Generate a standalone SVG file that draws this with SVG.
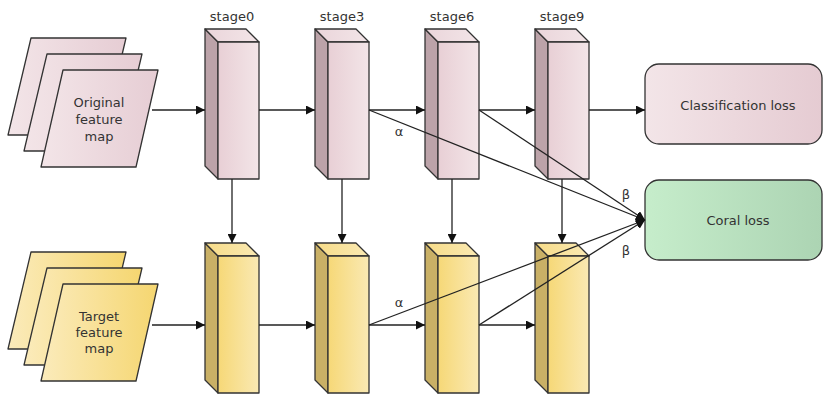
<svg xmlns="http://www.w3.org/2000/svg" width="826" height="394" viewBox="0 0 826 394">
<defs>
<linearGradient id="pinkFront" x1="0" y1="0" x2="1" y2="0"><stop offset="0" stop-color="#e8cfd5"/><stop offset="1" stop-color="#f3e5e8"/></linearGradient>
<linearGradient id="pinkTop" x1="0" y1="0" x2="1" y2="0"><stop offset="0" stop-color="#ead5da"/><stop offset="1" stop-color="#f3e5e8"/></linearGradient>
<linearGradient id="yelFront" x1="0" y1="0" x2="1" y2="0"><stop offset="0" stop-color="#f6d877"/><stop offset="1" stop-color="#fae9b3"/></linearGradient>
<linearGradient id="yelTop" x1="0" y1="0" x2="1" y2="0"><stop offset="0" stop-color="#f7dc88"/><stop offset="1" stop-color="#fae9b3"/></linearGradient>
<linearGradient id="pinkPara" x1="0" y1="0" x2="1" y2="0"><stop offset="0" stop-color="#f3e5e8"/><stop offset="1" stop-color="#e6cdd4"/></linearGradient>
<linearGradient id="yelPara" x1="0" y1="0" x2="1" y2="0"><stop offset="0" stop-color="#fbebbb"/><stop offset="1" stop-color="#f5d670"/></linearGradient>
<linearGradient id="clsGrad" x1="0" y1="0" x2="1" y2="0"><stop offset="0" stop-color="#f3e5e8"/><stop offset="1" stop-color="#e5cbd2"/></linearGradient>
<linearGradient id="coralGrad" x1="0" y1="0" x2="1" y2="0"><stop offset="0" stop-color="#c6edcb"/><stop offset="1" stop-color="#acd4b3"/></linearGradient>
<marker id="arr" viewBox="0 0 10 10" refX="10" refY="5" markerWidth="9" markerHeight="9" markerUnits="userSpaceOnUse" orient="auto"><path d="M0,0 L10,5 L0,10 z" fill="#111"/></marker>
</defs>
<style>
.edge{stroke:#222;stroke-width:1.3;fill:none}
.shape{stroke:#333;stroke-width:1.3;stroke-linejoin:round}
.pside{fill:#bca3a9}
.yside{fill:#c9b066}
.txt{font-family:"DejaVu Sans","Verdana",sans-serif;font-size:13px;fill:#333;text-anchor:middle}
</style>

<g id="labels">
<text class="txt" x="232" y="21">stage0</text>
<text class="txt" x="342" y="21">stage3</text>
<text class="txt" x="452" y="21">stage6</text>
<text class="txt" x="562" y="21">stage9</text>
</g>

<g id="original-map">
<polygon class="shape" fill="url(#pinkPara)" points="31,38 126,38 103,135 8,135"/>
<polygon class="shape" fill="url(#pinkPara)" points="47,54 142,54 119,151 24,151"/>
<polygon class="shape" fill="url(#pinkPara)" points="63,70 158,70 136,167 41,167"/>
<text class="txt" x="99" y="107">Original</text>
<text class="txt" x="99" y="124">feature</text>
<text class="txt" x="99" y="141">map</text>
</g>

<g id="target-map">
<polygon class="shape" fill="url(#yelPara)" points="31,252 126,252 103,349 8,349"/>
<polygon class="shape" fill="url(#yelPara)" points="47,268 142,268 119,365 24,365"/>
<polygon class="shape" fill="url(#yelPara)" points="63,284 158,284 136,381 41,381"/>
<text class="txt" x="99" y="321">Target</text>
<text class="txt" x="99" y="337">feature</text>
<text class="txt" x="99" y="353">map</text>
</g>

<g id="stage0-src">
<polygon class="shape pside" points="205,29 218,42 218,179 205,166"/>
<polygon class="shape" fill="url(#pinkTop)" points="205,29 246,29 259,42 218,42"/>
<rect class="shape" fill="url(#pinkFront)" x="218" y="42" width="41" height="137"/>
</g>
<g id="stage3-src">
<polygon class="shape pside" points="315,29 328,42 328,179 315,166"/>
<polygon class="shape" fill="url(#pinkTop)" points="315,29 356,29 369,42 328,42"/>
<rect class="shape" fill="url(#pinkFront)" x="328" y="42" width="41" height="137"/>
</g>
<g id="stage6-src">
<polygon class="shape pside" points="425,29 438,42 438,179 425,166"/>
<polygon class="shape" fill="url(#pinkTop)" points="425,29 466,29 479,42 438,42"/>
<rect class="shape" fill="url(#pinkFront)" x="438" y="42" width="41" height="137"/>
</g>
<g id="stage9-src">
<polygon class="shape pside" points="535,29 548,42 548,179 535,166"/>
<polygon class="shape" fill="url(#pinkTop)" points="535,29 576,29 589,42 548,42"/>
<rect class="shape" fill="url(#pinkFront)" x="548" y="42" width="41" height="137"/>
</g>

<g id="stage0-tgt">
<polygon class="shape yside" points="205,243 218,256 218,393 205,380"/>
<polygon class="shape" fill="url(#yelTop)" points="205,243 246,243 259,256 218,256"/>
<rect class="shape" fill="url(#yelFront)" x="218" y="256" width="41" height="137"/>
</g>
<g id="stage3-tgt">
<polygon class="shape yside" points="315,243 328,256 328,393 315,380"/>
<polygon class="shape" fill="url(#yelTop)" points="315,243 356,243 369,256 328,256"/>
<rect class="shape" fill="url(#yelFront)" x="328" y="256" width="41" height="137"/>
</g>
<g id="stage6-tgt">
<polygon class="shape yside" points="425,243 438,256 438,393 425,380"/>
<polygon class="shape" fill="url(#yelTop)" points="425,243 466,243 479,256 438,256"/>
<rect class="shape" fill="url(#yelFront)" x="438" y="256" width="41" height="137"/>
</g>
<g id="stage9-tgt">
<polygon class="shape yside" points="535,243 548,256 548,393 535,380"/>
<polygon class="shape" fill="url(#yelTop)" points="535,243 576,243 589,256 548,256"/>
<rect class="shape" fill="url(#yelFront)" x="548" y="256" width="41" height="137"/>
</g>

<g id="classification-loss">
<rect class="shape" fill="url(#clsGrad)" x="645" y="64" width="177" height="80" rx="14" ry="14"/>
<text class="txt" x="738" y="110">Classification loss</text>
</g>
<g id="coral-loss">
<rect class="shape" fill="url(#coralGrad)" x="645" y="180" width="177" height="80" rx="14" ry="14"/>
<text class="txt" x="738" y="225">Coral loss</text>
</g>

<g id="connectors">
<line class="edge" x1="152" y1="110" x2="205" y2="110" marker-end="url(#arr)"/>
<line class="edge" x1="259" y1="110" x2="315" y2="110" marker-end="url(#arr)"/>
<line class="edge" x1="369" y1="110" x2="425" y2="110" marker-end="url(#arr)"/>
<line class="edge" x1="479" y1="110" x2="535" y2="110" marker-end="url(#arr)"/>
<line class="edge" x1="589" y1="110" x2="645" y2="110" marker-end="url(#arr)"/>
<line class="edge" x1="152" y1="325" x2="205" y2="325" marker-end="url(#arr)"/>
<line class="edge" x1="259" y1="325" x2="315" y2="325" marker-end="url(#arr)"/>
<line class="edge" x1="369" y1="325" x2="425" y2="325" marker-end="url(#arr)"/>
<line class="edge" x1="479" y1="325" x2="535" y2="325" marker-end="url(#arr)"/>
<line class="edge" x1="232" y1="179" x2="232" y2="243" marker-end="url(#arr)"/>
<line class="edge" x1="342" y1="179" x2="342" y2="243" marker-end="url(#arr)"/>
<line class="edge" x1="452" y1="179" x2="452" y2="243" marker-end="url(#arr)"/>
<line class="edge" x1="562" y1="179" x2="562" y2="243" marker-end="url(#arr)"/>
<line class="edge" x1="369" y1="110" x2="645" y2="220" marker-end="url(#arr)"/>
<line class="edge" x1="479" y1="110" x2="645" y2="220" marker-end="url(#arr)"/>
<line class="edge" x1="369" y1="325" x2="645" y2="220" marker-end="url(#arr)"/>
<line class="edge" x1="479" y1="325" x2="645" y2="220" marker-end="url(#arr)"/>
<text class="txt" x="399" y="136">α</text>
<text class="txt" x="399" y="307">α</text>
<text class="txt" x="626" y="199">β</text>
<text class="txt" x="626" y="255">β</text>
</g>
</svg>
